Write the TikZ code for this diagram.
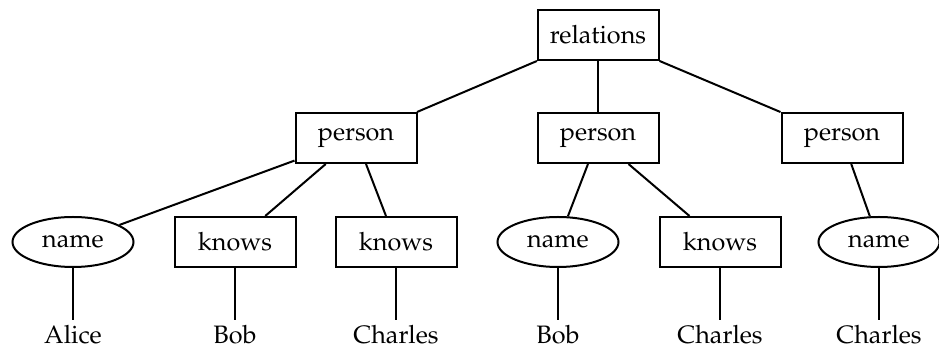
\documentclass[tikz,border=0pt]{standalone}
\usepackage[T1]{fontenc}
\usepackage{mathpazo}
\usetikzlibrary{shapes.geometric}
\tikzset{
  elem/.style={draw, rectangle, line width=1pt, minimum width=60.5pt, minimum height=25pt,
    inner sep=2pt, font=\fontsize{12.6}{14}\selectfont},
  attr/.style={elem, ellipse},
  leaf/.style={anchor=north, inner xsep=2pt, inner ysep=0pt, font=\fontsize{12.6}{14}\selectfont},
  edge/.style={line width=1pt},
  valedge/.style={edge, shorten >=2.5pt}
}
\begin{document}
\begin{tikzpicture}[x=0.5pt, y=-0.5pt]
\useasboundingbox (0,0) rectangle (939,347);
% root and persons
\node[elem] (rel) at (598,35) {relations};
\node[elem] (p1) at (356,138) {person};
\node[elem] (p2) at (598,138) {person};
\node[elem] (p3) at (842,138) {person};
% attributes and children
\node[attr] (n1) at (73,242) {name};
\node[elem] (k1) at (235,242) {knows};
\node[elem] (k2) at (396,242) {knows};
\node[attr] (n2) at (558,242) {name};
\node[elem] (k3) at (720,242) {knows};
\node[attr] (n3) at (879,242) {name};
% values
\node[leaf] (v1) at (73,325) {Alice};
\node[leaf] (v2) at (235,325) {Bob};
\node[leaf] (v3) at (396,325) {Charles};
\node[leaf] (v4) at (558,325) {Bob};
\node[leaf] (v5) at (720,325) {Charles};
\node[leaf] (v6) at (879,325) {Charles};
% edges
\draw[edge] (rel) -- (p1);
\draw[edge] (rel) -- (p2);
\draw[edge] (rel) -- (p3);
\draw[edge] (p1) -- (n1);
\draw[edge] (p1) -- (k1);
\draw[edge] (p1) -- (k2);
\draw[edge] (p2) -- (n2);
\draw[edge] (p2) -- (k3);
\draw[edge] (p3) -- (n3);
\draw[valedge] (n1) -- (v1);
\draw[valedge] (k1) -- (v2);
\draw[valedge] (k2) -- (v3);
\draw[valedge] (n2) -- (v4);
\draw[valedge] (k3) -- (v5);
\draw[valedge] (n3) -- (v6);
\end{tikzpicture}
\end{document}
